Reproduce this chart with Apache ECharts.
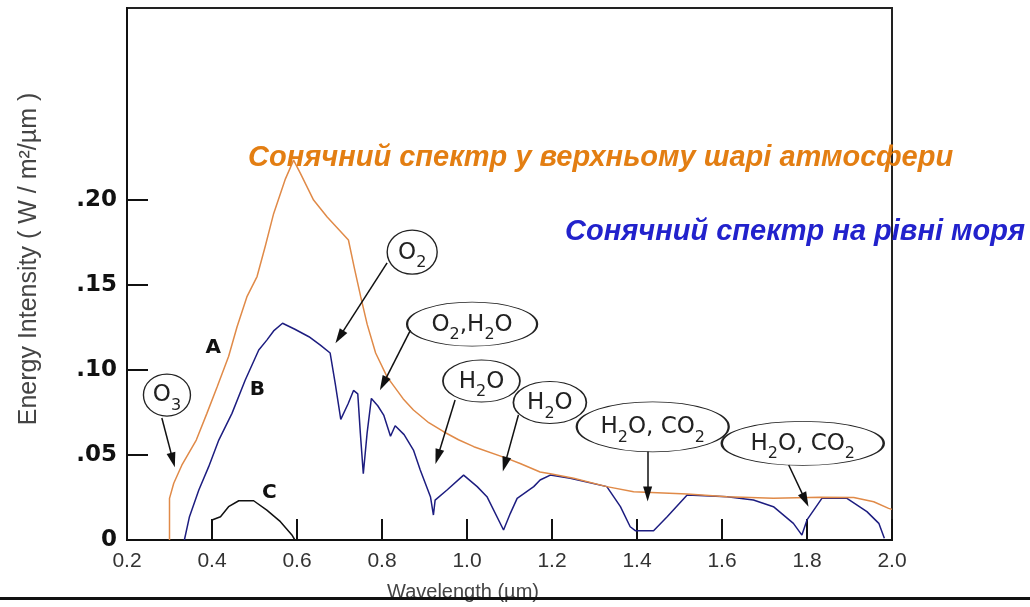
<!DOCTYPE html>
<html>
<head>
<meta charset="utf-8">
<script src="https://cdn.jsdelivr.net/npm/echarts@6/dist/echarts.min.js"></script>
<style>
  html, body { margin: 0; background: #fff; }
  #chart { width: 1030px; height: 607px; }
</style>
</head>
<body>
<div id="chart"></div>
<script>
// curve A - top of atmosphere
const wavelengthA = [0.300, 0.300, 0.310, 0.329, 0.363, 0.388, 0.412, 0.439, 0.459, 0.482, 0.506, 0.525, 0.545, 0.572, 0.592,
  0.608, 0.639, 0.671, 0.721, 0.735, 0.750, 0.765, 0.785, 0.812, 0.850, 0.874, 0.910, 0.945, 0.980, 1.016, 1.094, 1.125,
  1.172, 1.196, 1.251, 1.329, 1.392, 1.518, 1.612, 1.721, 1.831, 1.910, 1.957, 1.992, 2.000]
const intensityA = [0, 0.0245, 0.0334, 0.044, 0.0588, 0.0745, 0.090, 0.108, 0.1255, 0.143, 0.155, 0.1725, 0.192, 0.212, 0.2235,
  0.2157, 0.200, 0.190, 0.1765, 0.160, 0.143, 0.127, 0.110, 0.096, 0.083, 0.0765, 0.069, 0.0637, 0.059, 0.0549, 0.048, 0.045,
  0.040, 0.039, 0.0363, 0.0314, 0.0284, 0.027, 0.0255, 0.0245, 0.0251, 0.025, 0.0225, 0.0186, 0.018]

// curve B - sea level
const wavelengthB = [0.335, 0.347, 0.369, 0.392, 0.416, 0.447, 0.478, 0.510, 0.529, 0.545, 0.566, 0.595, 0.628, 0.655, 0.678,
  0.690, 0.703, 0.720, 0.733, 0.743, 0.749, 0.756, 0.765, 0.775, 0.790, 0.804, 0.820, 0.831, 0.852, 0.874, 0.890, 0.914,
  0.921, 0.925, 0.953, 0.992, 1.024, 1.047, 1.086, 1.102, 1.118, 1.157, 1.172, 1.196, 1.243, 1.329, 1.361, 1.384, 1.396,
  1.439, 1.471, 1.518, 1.612, 1.674, 1.721, 1.768, 1.788, 1.800, 1.835, 1.894, 1.941, 1.969, 1.982]
const intensityB = [0, 0.0137, 0.0294, 0.043, 0.0588, 0.0745, 0.094, 0.1118, 0.1176, 0.123, 0.1275, 0.124, 0.1196, 0.1147, 0.110,
  0.092, 0.071, 0.080, 0.088, 0.086, 0.063, 0.039, 0.063, 0.0833, 0.079, 0.0735, 0.061, 0.0672, 0.062, 0.0529, 0.0412, 0.0255,
  0.0147, 0.0235, 0.0294, 0.0382, 0.0314, 0.0255, 0.0059, 0.0157, 0.0245, 0.0314, 0.0353, 0.0382, 0.0363, 0.0314, 0.0196, 0.0078, 0.0055,
  0.0055, 0.0137, 0.0265, 0.0255, 0.0235, 0.0196, 0.0098, 0.0029, 0.0118, 0.0245, 0.0245, 0.0167, 0.0098, 0.001]

// curve C
const wavelengthC = [0.400, 0.400, 0.420, 0.439, 0.463, 0.498, 0.529, 0.561, 0.588, 0.595]
const intensityC = [0, 0.0118, 0.0137, 0.0196, 0.0231, 0.0231, 0.0176, 0.0108, 0.003, 0]

const yLabels = [0, 0.05, 0.10, 0.15, 0.20]

// absorption bubbles: text, bubble centre [um, value], arrow tail, arrow tip
const gasNames = ['{m|O}{s|3}', '{m|O}{s|2}', '{m|O}{s|2}{m|,H}{s|2}{m|O}', '{m|H}{s|2}{m|O}', '{m|H}{s|2}{m|O}',
  '{m|H}{s|2}{m|O, CO}{s|2}', '{m|H}{s|2}{m|O, CO}{s|2}']
const gasBubbles = [[0.294, 0.0853], [0.871, 0.1694], [1.012, 0.127], [1.034, 0.0935], [1.195, 0.0809], [1.437, 0.0666], [1.790, 0.0569]]
const gasBubbleSize = [[47, 42], [50, 44], [130, 44], [77, 42], [73, 42], [152, 50], [162, 44]]
const arrowTails = [[0.282, 0.0718], [0.812, 0.163], [0.867, 0.1235], [0.972, 0.0824], [1.121, 0.0735], [1.425, 0.052], [1.757, 0.0441]]
const arrowTips = [[0.308, 0.047], [0.700, 0.1195], [0.803, 0.092], [0.931, 0.049], [1.089, 0.0445], [1.425, 0.027], [1.796, 0.0235]]

const curveNames = ['A', 'B', 'C']
const curveNamePos = [[0.403, 0.113], [0.507, 0.0882], [0.535, 0.0276]]

const toPairs = (xs, ys) => xs.map((x, i) => [x, ys[i]])
const ellipse = 'path://M0,50 C0,22 22,0 50,0 C78,0 100,22 100,50 C100,78 78,100 50,100 C22,100 0,78 0,50 Z'

const chart = echarts.init(document.getElementById('chart'))

chart.setOption({
  backgroundColor: '#fff',
  animation: false,
  grid: {
    left: 127, right: 138, top: 8, bottom: 67,
    show: true, borderColor: '#222', borderWidth: 2
  },
  xAxis: {
    type: 'value', min: 0.2, max: 2.0, interval: 0.2,
    axisLine: { lineStyle: { color: '#111', width: 2 } },
    axisTick: { inside: true, length: 21, lineStyle: { color: '#111', width: 2 } },
    splitLine: { show: false },
    axisLabel: {
      margin: 11, color: '#333', fontSize: 21, fontFamily: 'Liberation Sans',
      formatter: v => v.toFixed(1)
    }
  },
  yAxis: {
    type: 'value', min: 0, max: 0.313, interval: 0.05,
    axisLine: { lineStyle: { color: '#111', width: 2 } },
    axisTick: { inside: true, length: 21, customValues: [0.05, 0.1, 0.15, 0.2], lineStyle: { color: '#111', width: 2 } },
    splitLine: { show: false },
    axisLabel: {
      customValues: yLabels, margin: 10, color: '#111', fontSize: 23,
      fontWeight: 'bold', fontFamily: 'DejaVu Sans',
      formatter: v => v === 0 ? '0' : v.toFixed(2).replace('0.', '.')
    }
  },
  series: [
    {
      type: 'line', data: toPairs(wavelengthB, intensityB), showSymbol: false,
      lineStyle: { color: '#1d1d80', width: 1.5 }
    },
    {
      type: 'line', data: toPairs(wavelengthA, intensityA), showSymbol: false,
      lineStyle: { color: '#e08a48', width: 1.5 }
    },
    {
      type: 'line', data: toPairs(wavelengthC, intensityC), showSymbol: false,
      lineStyle: { color: '#111', width: 1.5 },
      markLine: {
        silent: true,
        symbol: ['none', 'triangle'],
        label: { show: false },
        lineStyle: { color: '#111', width: 1.5, type: 'solid' },
        data: arrowTails.map((t, i) => [
          { coord: t, symbol: 'none' },
          { coord: arrowTips[i], symbol: 'triangle', symbolSize: [9, 15] }
        ])
      },
      markPoint: {
        silent: true,
        data: gasBubbles.map((c, i) => ({
          coord: c, symbol: ellipse, symbolSize: gasBubbleSize[i],
          itemStyle: { color: 'rgba(0,0,0,0)', borderColor: '#222', borderWidth: 1.3 },
          label: {
            show: true, position: 'inside', formatter: gasNames[i], offset: [0, 4],
            rich: {
              m: { fontSize: 23, lineHeight: 23, verticalAlign: 'top', color: '#222', fontFamily: 'DejaVu Sans' },
              s: { fontSize: 16, lineHeight: 30, verticalAlign: 'bottom', color: '#222', fontFamily: 'DejaVu Sans' }
            }
          }
        })).concat(curveNamePos.map((c, i) => ({
          coord: c, symbol: 'circle', symbolSize: 0,
          label: {
            show: true, position: 'inside', formatter: curveNames[i],
            color: '#111', fontSize: 20, fontWeight: 'bold', fontFamily: 'DejaVu Sans'
          }
        })))
      }
    }
  ],
  graphic: [
    {
      type: 'text', x: 248, y: 158, z: 10,
      style: {
        text: 'Сонячний спектр у верхньому шарі атмосфери',
        fill: '#e37e12', font: 'italic bold 29px "Liberation Sans"', verticalAlign: 'middle'
      }
    },
    {
      type: 'text', x: 565, y: 232, z: 10,
      style: {
        text: 'Сонячний спектр на рівні моря',
        fill: '#2222cc', font: 'italic bold 29px "Liberation Sans"', verticalAlign: 'middle'
      }
    },
    {
      type: 'text', x: 29, y: 259, rotation: Math.PI / 2,
      style: {
        text: 'Energy Intensity ( W / m²/µm )',
        fill: '#444', font: '25px "Liberation Sans"',
        align: 'center', verticalAlign: 'middle'
      }
    },
    {
      type: 'text', x: 463, y: 592,
      style: {
        text: 'Wavelength (µm)',
        fill: '#444', font: '20px "Liberation Sans"',
        align: 'center', verticalAlign: 'middle'
      }
    },
    {
      type: 'rect', shape: { x: 0, y: 597, width: 1030, height: 3 }, z: 20,
      style: { fill: '#111' }
    }
  ]
})
</script>
</body>
</html>
